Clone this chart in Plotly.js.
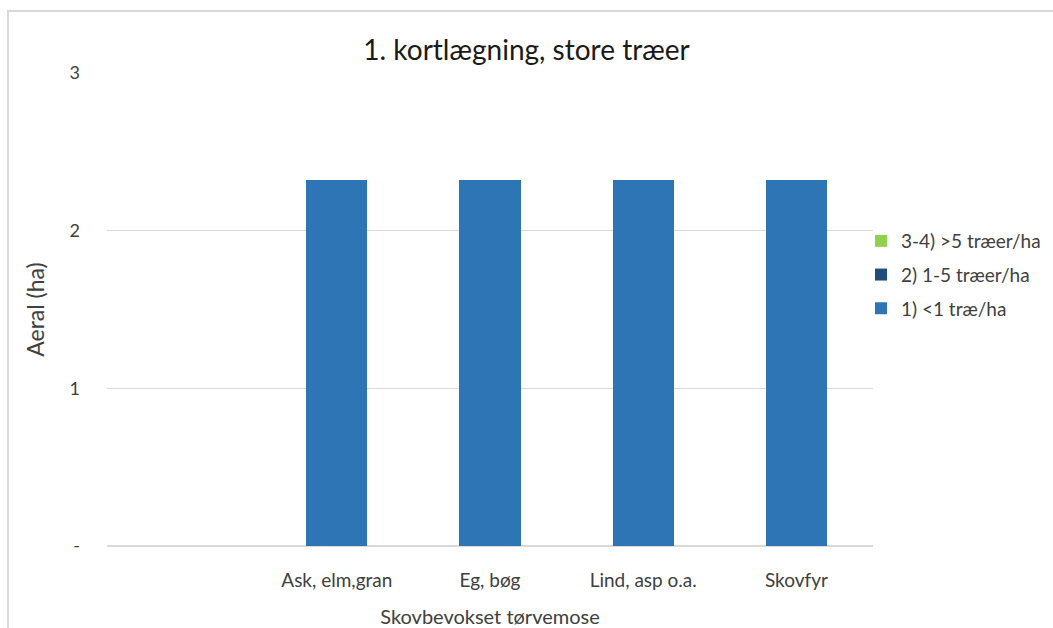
<!DOCTYPE html>
<html>
<head>
<meta charset="utf-8">
<script src="https://cdn.plot.ly/plotly-3.0.1.min.js"></script>
<style>
html,body{margin:0;padding:0;background:#fff;}
#chart{width:1053px;height:628px;}
</style>
</head>
<body>
<div id="chart"></div>
<script>
const categories = [" ", "Ask, elm,gran", "Eg, bøg", "Lind, asp o.a.", "Skovfyr"];
const seriesNames = ["1) <1 træ/ha", "2) 1-5 træer/ha", "3-4) >5 træer/ha"];
const under1 = [null, 2.32, 2.32, 2.32, 2.32];
const from1to5 = [null, 0, 0, 0, 0];
const over5 = [null, 0, 0, 0, 0];
const colors = ["#2e75b6", "#1f4e79", "#92d050"];
const yTickVals = [0, 1, 2, 3];
const yTickText = ["-", "1", "2", "3"];

const font = "Lato, 'Open Sans', sans-serif";
const seriesValues = [under1, from1to5, over5];
const traces = seriesValues.map((vals, i) => ({
  type: "bar",
  name: seriesNames[i],
  legendgroup: "g" + i,
  legendrank: 3 - i,
  x: categories,
  y: vals,
  marker: {color: colors[i]},
  hoverinfo: "x+y+name"
}));

const L = 107, R = 180, T = 73, B = 82, W = 1053, H = 628;
const pw = W - L - R, ph = H - T - B;
const px = v => (v - L) / pw;
const py = v => (H - B - v) / ph;

const layout = {
  width: W, height: H,
  margin: {l: L, r: R, t: T, b: B, pad: 0, autoexpand: false},
  paper_bgcolor: "#fff", plot_bgcolor: "#fff",
  barmode: "stack",
  bargap: 0.6,
  font: {family: font, color: "#404040", size: 18},
  title: {text: "1. kortlægning, store træer", font: {family: font, size: 28, color: "#1a1a1a"},
          x: 0.5, xanchor: "center", y: 1 - 50 / H, yanchor: "middle"},
  xaxis: {
    type: "category",
    categoryorder: "array", categoryarray: categories,
    showgrid: false, zeroline: false,
    showline: false,
    ticks: "", ticklabelstandoff: 21,
    tickfont: {family: font, size: 19, color: "#404040"},
    title: {text: "Skovbevokset tørvemose", font: {family: font, size: 20, color: "#404040"}, standoff: 20}
  },
  yaxis: {
    range: [0, 3],
    tickvals: yTickVals, ticktext: yTickText,
    showgrid: true, gridcolor: "#d9d9d9", gridwidth: 1.5,
    zeroline: true, zerolinecolor: "#d9d9d9", zerolinewidth: 1.5,
    showline: false, ticks: "", ticklabelstandoff: 26,
    tickfont: {family: font, size: 18, color: "#404040"},
    title: {text: "Aeral (ha)", font: {family: font, size: 23, color: "#404040"}, standoff: 18}
  },
  legend: {
    x: px(861), xanchor: "left", y: py(275), yanchor: "middle",
    traceorder: "grouped",
    font: {family: font, size: 19, color: "#404040"},
    itemwidth: 30, tracegroupgap: 6,
    bgcolor: "rgba(0,0,0,0)"
  },
  shapes: [
    {type: "line", xref: "paper", yref: "paper", x0: px(7), x1: px(1060), y0: py(11), y1: py(11),
     line: {color: "#d9d9d9", width: 2}},
    {type: "line", xref: "paper", yref: "paper", x0: px(8), x1: px(8), y0: py(11), y1: py(640),
     line: {color: "#d9d9d9", width: 2}}
  ]
};

Plotly.newPlot("chart", traces, layout, {displayModeBar: false, staticPlot: true});
</script>
</body>
</html>
